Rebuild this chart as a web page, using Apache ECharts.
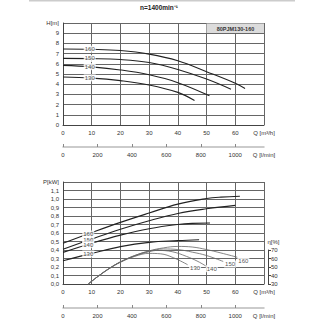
<!DOCTYPE html>
<html><head><meta charset="utf-8">
<script src="https://cdn.jsdelivr.net/npm/echarts@6/dist/echarts.min.js"></script>
<style>html,body{margin:0;padding:0;background:#fff}#c{width:325px;height:325px}</style>
</head><body><div id="c"></div>
<script>
// ---- data ----
const Q_MAX = 70;                       // m3/h at right edge
const LPM_MAX = Q_MAX * 1000 / 60;      // same edge in l/min
const qTicks = [0, 10, 20, 30, 40, 50, 60];
const lpmTicks = [0, 200, 400, 600, 800, 1000];
const etaTicks = [30, 40, 50, 60, 70];
const impellers = ['160', '150', '140', '130'];

// H [m] vs Q [m3/h]
const H160 = [[0,7.45],[10,7.42],[20,7.3],[30,6.95],[40,6.3],[50,5.23],[60,4.09],[63.4,3.57]];
const H150 = [[0,6.53],[10,6.51],[20,6.42],[30,6.12],[40,5.45],[50,4.5],[58.5,3.5]];
const H140 = [[0,5.85],[10,5.7],[20,5.4],[30,4.92],[40,4.15],[51,2.86]];
const H130 = [[0,4.7],[10,4.6],[20,4.35],[30,3.93],[40,3.2],[45.8,2.4]];

// P [kW] vs Q
const P160 = [[0,0.48],[10,0.605],[20,0.725],[30,0.835],[40,0.94],[50,1.005],[55,1.022],[61.6,1.032]];
const P150 = [[0,0.41],[10,0.53],[20,0.645],[30,0.745],[40,0.83],[50,0.885],[60,0.925]];
const P140 = [[0,0.372],[10,0.48],[20,0.575],[30,0.65],[40,0.70],[45,0.713],[51.2,0.717]];
const P130 = [[0,0.274],[10,0.36],[20,0.44],[30,0.49],[40,0.51],[47.4,0.52]];

// efficiency [%] vs Q
const E160 = [[8.8,30],[12,38.5],[16,48],[20,56],[25,63.5],[30,69],[35,72.5],[40,74.2],[45,73.5],[50,70.5],[55,66.5],[60.7,61.5]];
const E150 = [[8.8,30],[12,38.5],[16,48],[20,56],[25,63.5],[30,68.5],[35,71.2],[40,70.5],[45,67.5],[50,63.5],[55.8,56.5]];
const E140 = [[8.8,30],[12,38.5],[16,48],[20,56],[25,63],[30,68],[33,69.5],[38,68],[43,62.5],[47,56.5],[50.3,50]];
const E130 = [[8.8,30],[12,38.5],[16,48],[20,55.5],[25,62.5],[30,66],[34,65.5],[38.4,61],[43.4,52.7]];

// curve label anchors (data coords)
const hLabelAt = [[9.3,7.43],[9.3,6.52],[9.3,5.72],[9.3,4.62]];
const pLabelAt = [[8.8,0.588],[8.8,0.521],[8.8,0.462],[8.8,0.353]];
const eLabelAt = [[62.8,56.6],[58.2,53.5],[51.8,48],[46,48.8]];

// ---- chart ----
const FONT = '"Liberation Sans", Arial, sans-serif';
const TXT = '#333';
const GRIDC = '#666';

function qAxis(g) {
  return {
    type: 'value', gridIndex: g, position: 'bottom', min: 0, max: Q_MAX, interval: 10,
    axisLine: { show: true, onZero: false, lineStyle: { color: '#444', width: 1 } },
    axisTick: { show: false },
    axisLabel: { margin: 5, fontSize: 6, color: TXT, fontFamily: FONT, showMaxLabel: true, showMinLabel: true,
      formatter: v => v >= Q_MAX ? 'Q [m³/h]' : (qTicks.includes(v) ? String(v) : '') },
    splitLine: { show: true, lineStyle: { color: GRIDC, width: 1 } }
  };
}
function lpmAxis(g, off) {
  return {
    type: 'value', gridIndex: g, position: 'bottom', offset: off, min: 0, max: LPM_MAX,
    axisLine: { show: true, onZero: false, lineStyle: { color: '#bbb', width: 1.5 } },
    axisTick: { show: true, inside: true, length: 3, lineStyle: { color: '#888' }, customValues: lpmTicks },
    axisLabel: { margin: 5, fontSize: 6, color: TXT, fontFamily: FONT, customValues: lpmTicks.concat([LPM_MAX]),
      formatter: v => v > 1100 ? 'Q [l/min]' : String(Math.round(v)) },
    splitLine: { show: false }
  };
}
function lineS(xi, yi, data, color, width, clip) {
  return { type: 'line', xAxisIndex: xi, yAxisIndex: yi, data: data, symbol: 'none', smooth: 0.4,
    lineStyle: { color: color, width: width }, clip: clip !== false, silent: true, z: 3 };
}
function labelS(xi, yi, pts) {
  return { type: 'scatter', xAxisIndex: xi, yAxisIndex: yi, symbolSize: 1, silent: true, z: 8, clip: false,
    itemStyle: { color: 'rgba(0,0,0,0)' },
    label: { show: true, position: 'inside', formatter: '{b}', fontSize: 6, color: '#222', fontFamily: FONT,
      backgroundColor: '#fff', padding: [0, 1], lineHeight: 7, textBorderWidth: 0 },
    data: pts.map((p, i) => ({ name: impellers[i], value: p })) };
}

const option = {
  animation: false,
  textStyle: { fontFamily: FONT },
  grid: [
    { left: 63, top: 23, width: 201, height: 102, outerBoundsMode: 'none' },
    { left: 63, top: 182, width: 201, height: 102, outerBoundsMode: 'none' },
    { left: 63, top: 250, width: 201, height: 34, outerBoundsMode: 'none' }
  ],
  xAxis: [
    qAxis(0), lpmAxis(0, 22),
    qAxis(1), lpmAxis(1, 24),
    { type: 'value', gridIndex: 2, min: 0, max: Q_MAX, show: false }
  ],
  yAxis: [
    { type: 'value', gridIndex: 0, min: 0, max: 10, interval: 1,
      axisLine: { show: true, onZero: false, lineStyle: { color: '#444' } }, axisTick: { show: false },
      axisLabel: { margin: 4, fontSize: 6, color: TXT, fontFamily: FONT, showMaxLabel: true,
        formatter: v => v >= 10 ? 'H[m]' : String(v) },
      splitLine: { show: true, lineStyle: { color: GRIDC, width: 1 } } },
    { type: 'value', gridIndex: 1, min: 0, max: 1.2, interval: 0.1,
      axisLine: { show: true, onZero: false, lineStyle: { color: '#444' } }, axisTick: { show: false },
      axisLabel: { margin: 4, fontSize: 6, color: TXT, fontFamily: FONT, showMaxLabel: true,
        formatter: v => v > 1.15 ? 'P[kW]' : v.toFixed(1).replace('.', ',') },
      splitLine: { show: true, lineStyle: { color: GRIDC, width: 1 } } },
    { type: 'value', gridIndex: 2, position: 'right', offset: 4, min: 30, max: 70, interval: 10,
      axisLine: { show: true, onZero: false, lineStyle: { color: '#444', width: 1 } },
      axisTick: { show: true, length: 3, lineStyle: { color: '#444' } },
      axisLabel: { margin: 3, fontSize: 6, color: TXT, fontFamily: FONT,
        formatter: v => etaTicks.includes(v) ? String(v) : '' },
      splitLine: { show: false } }
  ],
  graphic: [
    { type: 'line', z: 100, shape: { x1: 29, y1: 0.75, x2: 295, y2: 0.75 }, style: { stroke: '#ccc', lineWidth: 1.5 } },
    { type: 'text', z: 100, x: 159, y: 7, style: { text: 'n=1400min⁻¹', align: 'center', verticalAlign: 'middle',
        fontSize: 6.5, fontWeight: 'bold', fontFamily: FONT, fill: '#222' } },
    { type: 'rect', z: 100, shape: { x: 206.5, y: 23.5, width: 57.5, height: 9.5 }, style: { fill: '#dcdcdc' } },
    { type: 'text', z: 101, x: 235.5, y: 28.5, style: { text: '80PJM130-160', align: 'center', verticalAlign: 'middle',
        fontSize: 5.5, fontWeight: 'bold', fontFamily: FONT, fill: '#333' } },
    { type: 'text', z: 100, x: 267.5, y: 241.5, style: { text: 'η[%]', align: 'left', verticalAlign: 'middle',
        fontSize: 6, fontFamily: FONT, fill: TXT } }
  ],
  series: [
    lineS(0, 0, H160, '#222', 1.1), lineS(0, 0, H150, '#222', 1.1),
    lineS(0, 0, H140, '#222', 1.1), lineS(0, 0, H130, '#222', 1.1),
    lineS(2, 1, P160, '#222', 1.1), lineS(2, 1, P150, '#222', 1.1),
    lineS(2, 1, P140, '#222', 1.1), lineS(2, 1, P130, '#222', 1.1),
    lineS(4, 2, E160, '#666', 0.8, false), lineS(4, 2, E150, '#666', 0.8, false),
    lineS(4, 2, E140, '#666', 0.8, false), lineS(4, 2, E130, '#666', 0.8, false),
    labelS(0, 0, hLabelAt), labelS(2, 1, pLabelAt), labelS(4, 2, eLabelAt)
  ]
};
const chart = echarts.init(document.getElementById('c'), null, { renderer: 'svg' });
chart.setOption(option);
</script></body></html>
